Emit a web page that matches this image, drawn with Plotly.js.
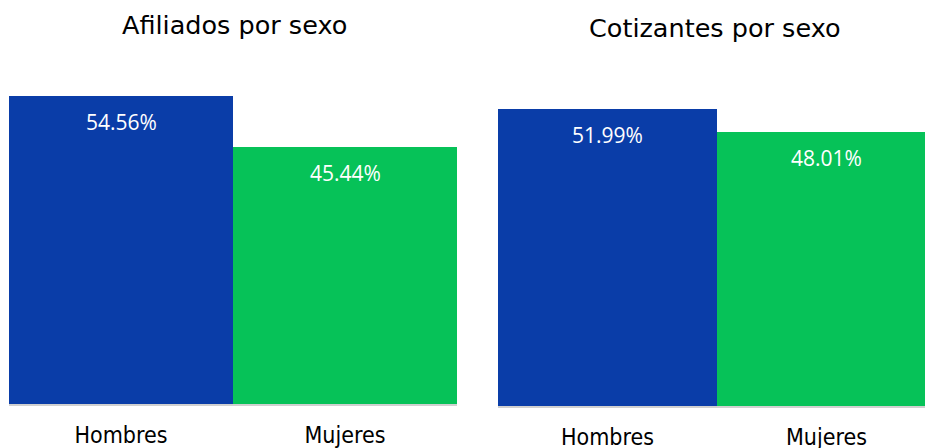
<!DOCTYPE html>
<html>
<head>
<meta charset="utf-8">
<script src="https://cdn.plot.ly/plotly-3.0.1.min.js"></script>
<style>html,body{margin:0;padding:0;background:#fff;}#chart{width:925px;height:448px;}</style>
</head>
<body>
<div id="chart"></div>
<script>
var categories = ["Hombres", "Mujeres"];
var afiliados = [54.56, 45.44];
var cotizantes = [51.99, 48.01];
var titles = ["Afiliados por sexo", "Cotizantes por sexo"];
var colors = ["#0A3DA8", "#06C258"];

var tickFont = {family: "DejaVu Sans Condensed, Liberation Sans Narrow, sans-serif", size: 23, color: "#000"};
var labelFont = {family: "Open Sans, Lato, sans-serif", size: 21, color: "#ffffff"};
var titleFont = {family: "DejaVu Sans, sans-serif", size: 25.5, color: "#000"};

var traces = [
  {type: "bar", x: categories, y: afiliados, xaxis: "x", yaxis: "y",
   marker: {color: colors, line: {width: 0}}, hoverinfo: "skip", showlegend: false},
  {type: "bar", x: categories, y: cotizantes, xaxis: "x2", yaxis: "y2",
   marker: {color: colors, line: {width: 0}}, hoverinfo: "skip", showlegend: false}
];

function fmt(v){ return v.toFixed(2) + "%"; }

var annotations = [];
categories.forEach(function(c, i){
  annotations.push({xref: "x", yref: "y", x: c, y: afiliados[i], text: fmt(afiliados[i]),
    showarrow: false, yshift: -26, font: labelFont});
  annotations.push({xref: "x2", yref: "y2", x: c, y: cotizantes[i], text: fmt(cotizantes[i]),
    showarrow: false, yshift: -26.5, font: labelFont});
});
annotations.push({xref: "paper", yref: "paper", x: 234/925, y: 1 - 25/448, text: titles[0],
  showarrow: false, font: titleFont, xanchor: "center", yanchor: "middle"});
annotations.push({xref: "paper", yref: "paper", x: 715/925, y: 1 - 28/448, text: titles[1],
  showarrow: false, font: titleFont, xanchor: "center", yanchor: "middle"});

var layout = {
  width: 925, height: 448,
  margin: {l: 0, r: 0, t: 0, b: 0},
  paper_bgcolor: "#fff", plot_bgcolor: "#fff",
  bargap: 0,
  font: tickFont,
  xaxis: {domain: [9/925, 457/925], range: [-0.5, 1.5], showline: true, linecolor: "#d0d0d0", linewidth: 2,
          ticks: "", tickfont: tickFont, ticklabelstandoff: 9, showgrid: false, zeroline: false, fixedrange: true},
  yaxis: {domain: [(448-404)/448, (448-65.3)/448], range: [0, 60], visible: false, showgrid: false, zeroline: false},
  xaxis2: {domain: [498/925, 1], range: [-0.5, 1.45], showline: true, linecolor: "#d0d0d0", linewidth: 2,
           ticks: "", tickfont: tickFont, ticklabelstandoff: 9, showgrid: false, zeroline: false, anchor: "y2"},
  yaxis2: {domain: [(448-406)/448, (448-63.2)/448], range: [0, 60], visible: false, showgrid: false, zeroline: false, anchor: "x2"},
  annotations: annotations
};

Plotly.newPlot("chart", traces, layout, {displayModeBar: false, staticPlot: true});
</script>
</body>
</html>
